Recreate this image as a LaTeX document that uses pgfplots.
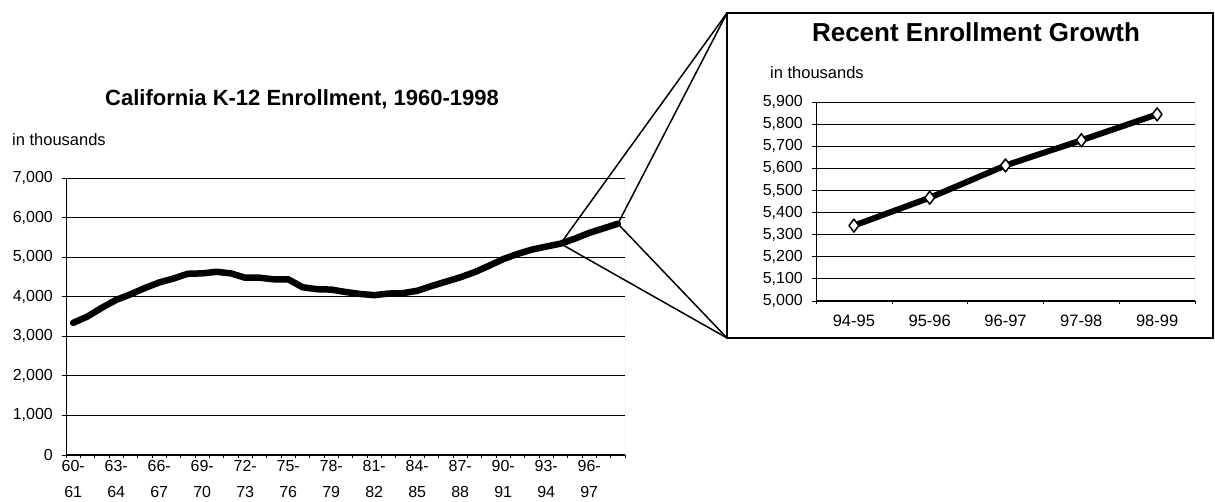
\documentclass[border=0pt]{standalone}
\usepackage{pgfplots}
\pgfplotsset{compat=1.18}
\usepackage{pgfplotstable}
\usepackage{fontspec}
\setmainfont{Liberation Sans}

\pgfplotstableread{
i  v
0  3340
1  3500
2  3720
3  3920
4  4060
5  4220
6  4360
7  4460
8  4580
9  4590
10 4630
11 4590
12 4480
13 4480
14 4440
15 4440
16 4240
17 4190
18 4180
19 4120
20 4070
21 4040
22 4080
23 4090
24 4150
25 4270
26 4380
27 4490
28 4620
29 4780
30 4950
31 5080
32 5190
33 5267
34 5341
35 5467
36 5613
37 5727
38 5844
}\longdata

\pgfplotstableread{
i v
0 5341
1 5467
2 5613
3 5727
4 5844
}\recentdata

\begin{document}
\begin{tikzpicture}[x=1bp,y=1bp]
\useasboundingbox (0,0) rectangle (1215,-502);

\pgfplotsset{
  mystyle/.style={
    scale only axis,
    axis line style={draw=none},
    tick align=outside,
    xtick pos=bottom, ytick pos=left,
    ymajorgrids,
    grid style={black, line width=0.9bp},
    major x tick style={draw=none},
    minor x tick style={black, line width=0.6bp},
    major y tick style={black, line width=0.8bp},
    major tick length=4bp,
    minor tick length=3bp,
    /pgf/number format/1000 sep={,},
    /pgf/number format/assume math mode=true,
    yticklabel style={font=\fontsize{16bp}{19bp}\selectfont, anchor=east, inner sep=0pt, xshift=-9bp},
  }
}

% ---------- Left chart ----------
\begin{axis}[mystyle,
  at={(66bp,-455bp)}, anchor=south west,
  width=559bp, height=277bp,
  xmin=-0.5, xmax=38.5, ymin=0, ymax=7000,
  ytick={0,1000,...,7000},
  xtick={0,3,...,36},
  minor xtick={-0.5,0.5,...,38.5},
  xticklabels={{60-\\61},{63-\\64},{66-\\67},{69-\\70},{72-\\73},{75-\\76},{78-\\79},{81-\\82},{84-\\85},{87-\\88},{90-\\91},{93-\\94},{96-\\97}},
  xticklabel style={align=center, font=\fontsize{16bp}{26bp}\selectfont, anchor=north, inner sep=0pt, yshift=-1bp},
]
\addplot[black, line width=6.5bp, line join=round, line cap=round] table[x=i,y=v]{\longdata};
\draw[black, line width=1.6bp] (rel axis cs:0,1) -- (rel axis cs:0,0) -- (rel axis cs:1,0);
\draw[black!70, line width=1bp, densely dotted] (rel axis cs:1,0) -- (rel axis cs:1,1);
\coordinate (zA) at (axis cs:34,5341);
\coordinate (zB) at (axis cs:38,5844);
\end{axis}

\node[anchor=west, font=\fontsize{22bp}{26bp}\selectfont\bfseries, inner sep=0pt] at (105,-99) {California K-12 Enrollment, 1960-1998};
\node[anchor=west, font=\fontsize{16.5bp}{19bp}\selectfont, inner sep=0pt] at (12,-140) {in thousands};

% ---------- Box and zoom lines ----------
\draw[black, line width=2bp] (727,-338) rectangle (1213,-13);
\draw[black, line width=1.5bp] (zA) -- (727,-13);
\draw[black, line width=1.5bp] (zB) -- (727,-13);
\draw[black, line width=1.5bp] (zA) -- (727,-338);
\draw[black, line width=1.5bp] (zB) -- (727,-338);

% ---------- Right chart ----------
\begin{axis}[mystyle,
  at={(816bp,-301bp)}, anchor=south west,
  width=379bp, height=199bp,
  xmin=-0.5, xmax=4.5, ymin=5000, ymax=5900,
  ytick={5000,5100,...,5900},
  xtick={0,1,2,3,4},
  minor xtick={-0.5,0.5,...,4.5},
  xticklabels={94-95,95-96,96-97,97-98,98-99},
  xticklabel style={font=\fontsize{16.5bp}{19bp}\selectfont, anchor=north, inner sep=0pt, yshift=-10bp},
]
\addplot[black, line width=6bp, line join=round, mark=diamond*, mark size=6.5bp,
  mark options={fill=white, draw=black, line width=1.5bp}] table[x=i,y=v]{\recentdata};
\draw[black, line width=1.6bp] (rel axis cs:0,1) -- (rel axis cs:0,0) -- (rel axis cs:1,0);
\draw[black!70, line width=1bp, densely dotted] (rel axis cs:1,0) -- (rel axis cs:1,1);
\end{axis}

\node[font=\fontsize{26bp}{30bp}\selectfont\bfseries, inner sep=0pt] at (976,-32) {Recent Enrollment Growth};
\node[anchor=west, font=\fontsize{16.5bp}{19bp}\selectfont, inner sep=0pt] at (770,-73) {in thousands};

\end{tikzpicture}
\end{document}
